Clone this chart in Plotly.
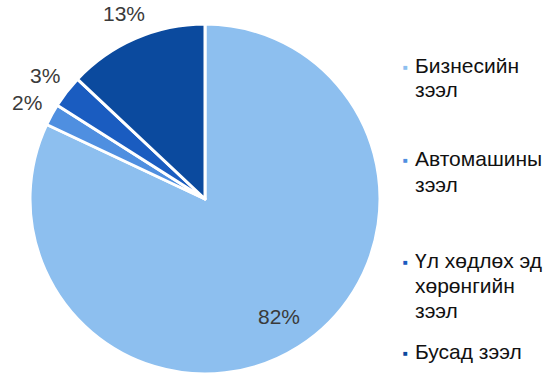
import math
import plotly.graph_objects as go

# loan portfolio shares, %
labels = ["Бизнесийн зээл", "Автомашины зээл", "Үл хөдлөх эд хөрөнгийн зээл", "Бусад зээл"]
legend_lines = [["Бизнесийн", "зээл"], ["Автомашины", "зээл"],
                ["Үл хөдлөх эд", "хөрөнгийн", "зээл"], ["Бусад зээл"]]
values = [82, 2, 3, 13]
colors = ["#8DBFEF", "#4F8FE0", "#1A5CC0", "#0B4A9E"]

FONT = "Liberation Sans, Arial"
W, H = 557, 374
CX, CY, R = 205, 200, 175  # pie centre / radius in pixels

fig = go.Figure(go.Pie(
    labels=labels,
    values=values,
    sort=False,
    direction="clockwise",
    rotation=0,
    marker=dict(colors=colors, line=dict(color="white", width=3)),
    textinfo="none",
    domain=dict(x=[(CX - R) / W, (CX + R) / W], y=[0, 2 * R / H]),
    showlegend=False,
    hoverinfo="label+percent",
))

# percentage labels placed at each slice's mid-angle
total = sum(values)
cum = 0
for v in values:
    mid = (cum + v / 2) / total * 2 * math.pi
    cum += v
    rr = 0.79 * R if v / total > 0.5 else R + 28
    px_ = CX + rr * math.sin(mid)
    py_ = CY - rr * math.cos(mid)
    fig.add_annotation(x=px_ / W, y=1 - py_ / H, xref="paper", yref="paper",
                       text=f"{v}%", showarrow=False, xanchor="center", yanchor="middle",
                       font=dict(family=FONT, size=21, color="#3a3a3a"))

# legend drawn by hand: small square + one annotation per text line
first_baseline = [72, 166, 267, 358]
for col, lines, b0 in zip(colors, legend_lines, first_baseline):
    fig.add_annotation(x=405 / W, y=1 - (b0 - 6) / H, xref="paper", yref="paper",
                       text="■", showarrow=False, xanchor="center", yanchor="middle",
                       font=dict(size=8, color=col))
    for i, ln in enumerate(lines):
        yc = b0 + i * 25 - 7
        fig.add_annotation(x=413 / W, y=1 - yc / H, xref="paper", yref="paper",
                           text=ln, showarrow=False, xanchor="left", yanchor="middle",
                           font=dict(family=FONT, size=21, color="#111111"))

fig.update_layout(
    width=W, height=H,
    margin=dict(l=0, r=0, t=0, b=0),
    paper_bgcolor="white",
    plot_bgcolor="white",
)

fig.write_html("out.html", config={"displayModeBar": False},
               post_script="document.body.style.margin='0';")
